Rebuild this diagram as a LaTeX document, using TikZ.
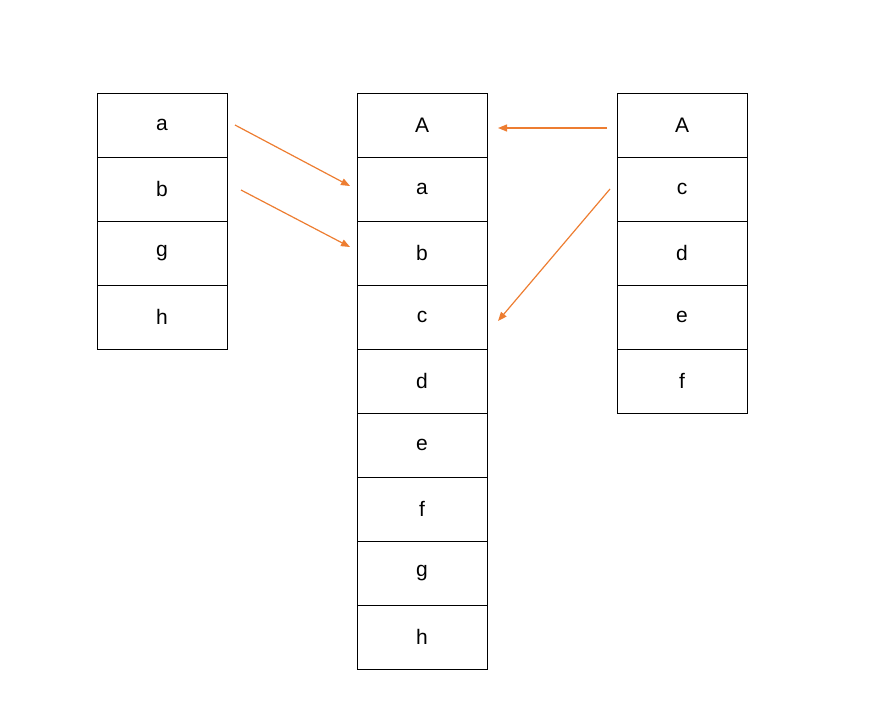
\documentclass[tikz,border=0pt]{standalone}
\usepackage{fontspec}
\setmainfont{Liberation Sans}
\usetikzlibrary{arrows.meta}
\definecolor{link}{RGB}{237,125,49}
\tikzset{
    cell/.style = {draw=black, line width=1pt, minimum width=130pt, minimum height=64pt,
                   inner sep=0pt, font=\fontsize{21}{25}\selectfont},
    move/.style = {draw=link, line width=1.2pt, -{Triangle[length=9pt,width=7pt]}}
}
\begin{document}
\begin{tikzpicture}[x=1pt, y=-1pt]
        \useasboundingbox (0,0) rectangle (874,726);
        % place the three columns
        \foreach \t [count=\i] in {a,b,g,h}
            \node[cell] (left-\i) at (162, 61+64*\i) {\t};
        \foreach \t [count=\i] in {A,a,b,c,d,e,f,g,h}
            \node[cell] (mid-\i) at (422, 61+64*\i) {\t};
        \foreach \t [count=\i] in {A,c,d,e,f}
            \node[cell] (right-\i) at (682, 61+64*\i) {\t};

        % free ends of the arrows
        \coordinate (from-a) at (235,125);
        \coordinate (from-b) at (241,190);
        \coordinate (from-A) at (607,128);
        \coordinate (from-c) at (610,189);
        \coordinate (to-a) at (350,186);
        \coordinate (to-b) at (350,247);
        \coordinate (to-A) at (498,128);
        \coordinate (to-c) at (498,321);

        % draw the moves
        \draw[move] (from-a) -- (to-a);
        \draw[move] (from-b) -- (to-b);
        \draw[move] (from-A) -- (to-A);
        \draw[move] (from-c) -- (to-c);
    \end{tikzpicture}
\end{document}
